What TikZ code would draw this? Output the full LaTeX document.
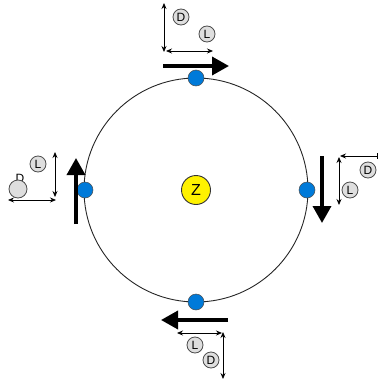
\documentclass[tikz,border=0pt]{standalone}
\usepackage{fontspec}
\setmainfont{Liberation Sans}
\usetikzlibrary{arrows.meta}
\definecolor{dotblue}{RGB}{0,122,217}
\definecolor{labelgray}{RGB}{222,222,222}
\tikzstyle{every node}=[inner sep=0pt]
\tikzstyle{orbit}=[circle,draw=black!85,line width=0.9pt,minimum size=224pt]
\tikzstyle{centre}=[circle,draw=black!80,fill=yellow,line width=0.9pt,minimum size=29pt,font=\fontsize{16}{16}\selectfont]
\tikzstyle{dot}=[circle,draw=black!70,fill=dotblue,line width=0.5pt,minimum size=16pt]
\tikzstyle{letter}=[circle,draw=black!70,fill=labelgray,line width=0.8pt,minimum size=16pt,font=\fontsize{12}{12}\selectfont]
\tikzstyle{motion}=[line width=3.5pt,-{Triangle[length=17pt,width=18pt]}]
\tikzstyle{dim}=[line width=0.8pt,{Stealth[length=6pt,width=5pt]}-{Stealth[length=6pt,width=5pt]}]

\begin{document}
\begin{tikzpicture}[x=1pt,y=-1pt]
    \useasboundingbox (0,0) rectangle (379,383);
    % orbit and centre
    \node [orbit] (path) at (196,190) {};
    \node [centre] (z) at (196,190) {Z};
    % bodies on the orbit
    \node [dot] (top) at (196,78) {};
    \node [dot] (left) at (85,190) {};
    \node [dot] (right) at (307,190) {};
    \node [dot] (bottom) at (196,302) {};
    % motion arrows
    \coordinate (ta) at (163,66); \coordinate (tb) at (229,66);
    \coordinate (la) at (76,224); \coordinate (lb) at (76,158);
    \coordinate (ra) at (322,156); \coordinate (rb) at (322,223);
    \coordinate (ba) at (228,320); \coordinate (bb) at (161,320);
    \draw [motion] (ta) -- (tb);
    \draw [motion] (la) -- (lb);
    \draw [motion] (ra) -- (rb);
    \draw [motion] (ba) -- (bb);
    % top frame
    \coordinate (tv1) at (164,3); \coordinate (tv2) at (164,52);
    \coordinate (th1) at (166,51); \coordinate (th2) at (213,51);
    \draw [dim] (tv1) -- (tv2);
    \draw [dim] (th1) -- (th2);
    \node [letter] (td) at (181,17) {D};
    \node [letter] (tl) at (207,34) {L};
    % left frame
    \coordinate (lv1) at (55,152); \coordinate (lv2) at (55,197);
    \coordinate (lh1) at (8,200); \coordinate (lh2) at (56,200);
    \draw [dim] (lv1) -- (lv2);
    \draw [dim] (lh1) -- (lh2);
    \node [letter] (ll) at (38,164) {L};
    \node [font=\fontsize{12}{12}\selectfont] (ldtext) at (20,178) {D};
    \node [letter,minimum size=18pt] (ld) at (18,189) {};
    % right frame
    \coordinate (rv1) at (339,157); \coordinate (rv2) at (339,205);
    \coordinate (rh1) at (340,156); \coordinate (rh2) at (378,156);
    \draw [dim] (rv1) -- (rv2);
    \draw [line width=0.8pt,{Stealth[length=6pt,width=5pt]}-{Bar[width=6pt]}] (rh1) -- (rh2);
    \node [letter] (rd) at (368,170) {D};
    \node [letter] (rl) at (350,190) {L};
    % bottom frame
    \coordinate (bh1) at (177,333); \coordinate (bh2) at (222,333);
    \coordinate (bv1) at (223,332); \coordinate (bv2) at (223,379);
    \draw [dim] (bh1) -- (bh2);
    \draw [dim] (bv1) -- (bv2);
    \node [letter] (bl) at (195,345) {L};
    \node [letter] (bd) at (211,360) {D};
\end{tikzpicture}
\end{document}
